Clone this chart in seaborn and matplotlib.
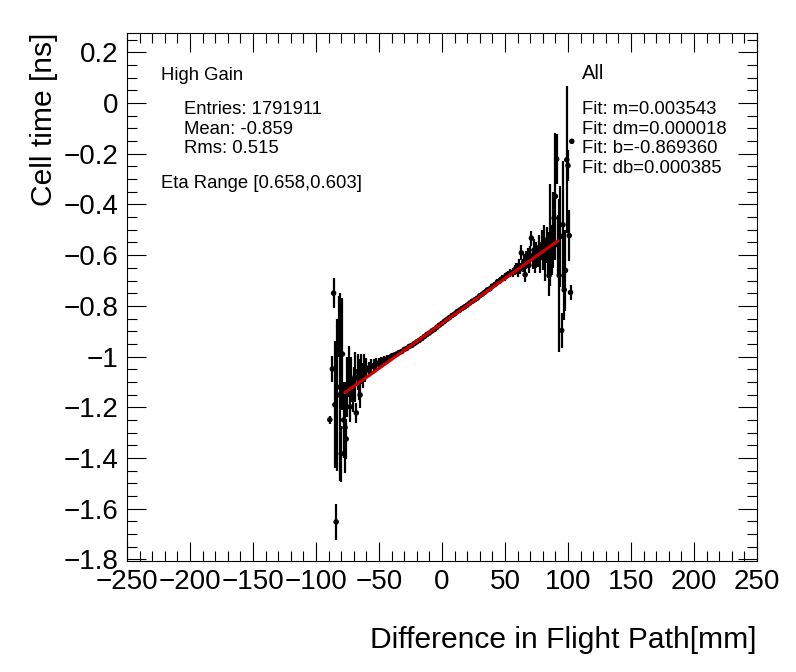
import numpy as np
import pandas as pd
import seaborn as sns
import matplotlib
matplotlib.use("Agg")
import matplotlib.pyplot as plt
from matplotlib.ticker import MultipleLocator, FuncFormatter

# profile points: flight path difference [mm], mean cell time [ns], error [ns]
path_mm = [
    -89, -87, -86, -85, -84, -83, -82, -81, -80, -79, -78, -77, -76, -75, -74, -73, -72, -71, -70,
    -69, -68, -67, -66, -65, -64, -63, -62, -61, -60,
    -58, -56, -54, -52, -50, -48, -46, -44, -42, -40, -38, -36, -34, -32, -30, -28, -26, -24,
    -22, -20, -18, -16, -14, -12, -10, -8, -6, -4, -2, 0, 2, 4, 6, 8, 10, 12, 14, 16, 18,
    20, 22, 24, 26, 28, 30, 32, 34, 36, 38, 40, 42, 44, 46, 48, 50, 52, 54, 56, 58,
    59, 60, 61, 62, 63, 64, 65, 66, 67, 68, 69, 70, 71, 72, 73, 74, 75, 76, 77, 78, 79, 80,
    81, 82, 83, 84, 85, 86, 87, 88, 89, 90, 91, 92, 93, 94, 95, 96, 97, 98, 99, 100, 101, 102, 103,
]
cell_time = [
    -1.249, -1.049, -0.750, -1.190, -1.652, -1.151, -0.881, -1.120, -1.383, -0.990, -1.250,
    -1.280, -1.325, -1.120, -1.060, -1.198, -1.090, -1.150, -1.100,
    -1.080, -1.222, -1.060, -1.090, -1.151, -1.050, -1.075, -1.040, -1.060, -1.045,
    -1.050, -1.040, -1.035, -1.030, -1.025, -1.020, -1.012, -1.010, -1.005, -0.998, -0.994,
    -0.990, -0.984, -0.980, -0.972, -0.968, -0.960, -0.956,
    -0.949, -0.942, -0.936, -0.929, -0.921, -0.913, -0.907, -0.899, -0.893, -0.884, -0.876,
    -0.869, -0.861, -0.853, -0.846, -0.838, -0.832, -0.823, -0.817, -0.810, -0.804,
    -0.797, -0.789, -0.782, -0.776, -0.770, -0.760, -0.754, -0.746, -0.737, -0.733, -0.722,
    -0.716, -0.706, -0.700, -0.692, -0.686, -0.676, -0.672, -0.668, -0.658,
    -0.650, -0.665, -0.640, -0.655, -0.591, -0.640, -0.625, -0.677, -0.620, -0.610, -0.640,
    -0.600, -0.533, -0.615, -0.580, -0.630, -0.600, -0.605, -0.570, -0.610, -0.560, -0.590,
    -0.540, -0.620, -0.560, -0.600, -0.680, -0.520, -0.580, -0.500, -0.454, -0.368, -0.221,
    -0.560, -0.680, -0.526, -0.897, -0.480, -0.737, -0.660, -0.224, -0.247, -0.523, -0.747, -0.151,
]
time_err = [
    0.015, 0.05, 0.06, 0.25, 0.07, 0.30, 0.12, 0.37, 0.11, 0.22, 0.15, 0.18, 0.08, 0.12, 0.10,
    0.06, 0.09, 0.07, 0.06,
    0.10, 0.04, 0.07, 0.08, 0.05, 0.06, 0.05, 0.05, 0.04, 0.04,
    0.03, 0.03, 0.025, 0.025, 0.02, 0.02, 0.015, 0.015, 0.012, 0.012, 0.01, 0.01, 0.008,
    0.008, 0.007, 0.007, 0.006, 0.006,
    0.006, 0.005, 0.005, 0.005, 0.005, 0.005, 0.005, 0.005, 0.005, 0.005, 0.005, 0.005,
    0.005, 0.005, 0.005, 0.005, 0.005, 0.005, 0.005, 0.005, 0.005,
    0.006, 0.006, 0.006, 0.006, 0.007, 0.007, 0.008, 0.008, 0.009, 0.009, 0.01, 0.01,
    0.011, 0.012, 0.013, 0.014, 0.015, 0.016, 0.018, 0.02,
    0.02, 0.02, 0.025, 0.02, 0.03, 0.025, 0.03, 0.03, 0.035, 0.04, 0.03, 0.035, 0.03, 0.04,
    0.045, 0.04, 0.05, 0.04, 0.05, 0.06, 0.06, 0.07,
    0.06, 0.08, 0.07, 0.09, 0.08, 0.20, 0.10, 0.15, 0.10, 0.25, 0.10, 0.12, 0.30, 0.20,
    0.07, 0.25, 0.12, 0.16, 0.29, 0.06, 0.10, 0.03, 0.01,
]

# linear fit result and its range
fit_m = 0.003543
fit_dm = 0.000018
fit_b = -0.869360
fit_db = 0.000385
fit_range = [-77, 92]

df = pd.DataFrame({"path": path_mm, "time": cell_time, "err": time_err})
fit_df = pd.DataFrame({"path": fit_range,
                       "time": [fit_m * x + fit_b for x in fit_range]})

sns.set_style("ticks")
plt.rcParams["font.family"] = ["Liberation Sans", "DejaVu Sans"]
plt.rcParams["text.color"] = "black"
plt.rcParams["axes.labelcolor"] = "black"

fig = plt.figure(figsize=(7.96, 6.72), dpi=100)
ax = fig.add_axes([0.1595, 0.1652, 0.7915, 0.7857])

ax.errorbar(df["path"], df["time"], yerr=df["err"], fmt="none",
            ecolor="black", elinewidth=1.6, capsize=0, zorder=2)
sns.scatterplot(data=df, x="path", y="time", color="black", s=16,
                edgecolor="none", ax=ax, zorder=3)
sns.lineplot(data=fit_df, x="path", y="time", color="#cc0000",
             linewidth=2.3, ax=ax, zorder=4)

ax.set_xlim(-250, 250)
ax.set_ylim(-1.806, 0.276)

ax.xaxis.set_major_locator(MultipleLocator(50))
ax.xaxis.set_minor_locator(MultipleLocator(10))
ax.yaxis.set_major_locator(MultipleLocator(0.2))
ax.yaxis.set_minor_locator(MultipleLocator(0.05))

fmt = FuncFormatter(lambda v, p: f"{round(v, 6):g}".replace("-", "\u2212"))
ax.xaxis.set_major_formatter(fmt)
ax.yaxis.set_major_formatter(fmt)

ax.tick_params(which="both", direction="in", top=True, right=True,
               width=0.8, colors="black")
ax.tick_params(which="major", length=14, labelsize=20, pad=6)
ax.tick_params(which="minor", length=7)
for s in ax.spines.values():
    s.set_linewidth(0.8)
    s.set_color("black")

ax.set_xlabel("Difference in Flight Path[mm]", fontsize=21.6, loc="right", labelpad=22)
ax.set_ylabel("Cell time [ns]", fontsize=21.6, loc="top", labelpad=4)

# text boxes (figure coordinates from pixel baselines)
W, H = 796, 672
def put(x, y, s, size=13.3):
    fig.text(x / W, 1 - y / H, s, fontsize=size, va="baseline", ha="left")

put(160.7, 80, "High Gain")
put(184, 114, "Entries: 1791911")
put(184, 133.5, "Mean: -0.859")
put(184, 153.3, "Rms: 0.515")
put(160.7, 187.5, "Eta Range [0.658,0.603]")
put(582, 79.3, "All", size=14.5)
put(581.7, 114, f"Fit: m={fit_m:.6f}")
put(581.7, 133.5, f"Fit: dm={fit_dm:.6f}")
put(581.7, 153.3, f"Fit: b={fit_b:.6f}")
put(581.7, 173.3, f"Fit: db={fit_db:.6f}")

fig.savefig("out.png", dpi=100)
